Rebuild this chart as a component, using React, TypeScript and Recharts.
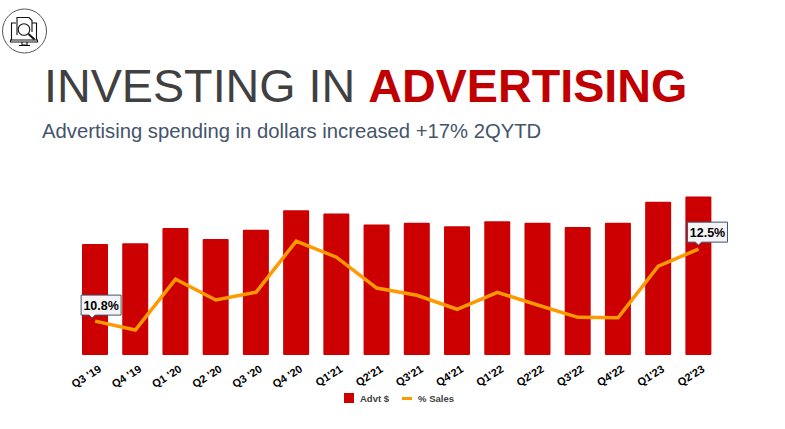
import React from 'react';
import { ComposedChart, Bar, Line, XAxis, YAxis, Legend } from 'recharts';

// Quarter labels along the bottom
const quarters = ["Q3 '19", "Q4 '19", "Q1 '20", "Q2 '20", "Q3 '20", "Q4 '20", "Q1'21", "Q2'21", "Q3'21", "Q4'21", "Q1'22", "Q2'22", "Q3'22", "Q4'22", "Q1'23", "Q2'23"];

// The dollar axis is not printed
const advtDollars = [131, 132, 150, 137, 148, 171, 167, 154, 156, 152, 158, 156, 151, 156, 181, 187];
const pctSales = [10.8, 10.59, 11.79, 11.3, 11.48, 12.69, 12.31, 11.58, 11.41, 11.08, 11.48, 11.18, 10.89, 10.88, 12.1, 12.5];

const chartData = quarters.map((quarter, i) => ({
  quarter,
  advt: advtDollars[i],
  pct: pctSales[i],
}));

const FONT = '"Liberation Sans", Arial, sans-serif';

// Rotated quarter tick
const QuarterTick = ({ x, y, payload }: any) => (
  <text
    x={x + 7}
    y={y + 8}
    textAnchor="end"
    fontFamily={FONT}
    fontSize={11}
    fontWeight={700}
    fill="#000"
    transform={`rotate(-32 ${x + 7} ${y + 8})`}
  >
    {payload.value}
  </text>
);

// Callout box for the first and last points only
const Callout = ({ x, y, index, value }: any) => {
  if (index !== 0 && index !== quarters.length - 1) return null;
  const left = x + (index === 0 ? -14 : -11);
  const top = y - (index === 0 ? 26 : 27);
  const w = 40;
  const h = 20;
  const tip = x - (index === 0 ? 3 : 0);
  return (
    <g>
      <path
        d={`M${left} ${top}h${w}v${h}H${tip + 3}l-3 3l-3 -3H${left}z`}
        fill="#F4F4F6"
        stroke="#44546A"
        strokeWidth={1}
      />
      <text
        x={left + w / 2}
        y={top + 14.5}
        textAnchor="middle"
        fontFamily={FONT}
        fontSize={12.5}
        fontWeight={700}
        fill="#000"
      >
        {value.toFixed(1)}%
      </text>
    </g>
  );
};

// Legend drawn by hand so the swatches match the slide
const SlideLegend = ({ payload }: any) => (
  <div style={{ display: 'flex', alignItems: 'center', height: 12, fontFamily: FONT, fontSize: 9.5, fontWeight: 700, color: '#404040', whiteSpace: 'nowrap' }}>
    {(payload || []).map((entry: any) => (
      <div key={entry.value} style={{ display: 'flex', alignItems: 'center', marginRight: 13 }}>
        {entry.type === 'square' ? (
          <div style={{ width: 10, height: 10, background: entry.color, marginRight: 6 }} />
        ) : (
          <div style={{ width: 10, height: 3, background: entry.color, marginRight: 6 }} />
        )}
        <span>{entry.value}</span>
      </div>
    ))}
  </div>
);

// Little monitor + magnifier badge in the corner
const Badge = () => (
  <svg width={50} height={56} style={{ position: 'absolute', left: 0, top: 6 }}>
    <circle cx={24.5} cy={25} r={22} fill="#fff" stroke="#555" strokeWidth={1} />
    <g fill="none" stroke="#111" strokeWidth={1.1}>
      <path d="M16 17H11.5V34M32 17H36.5V34" />
      <path d="M10.5 34H37.5V36H10.5z" />
      <path d="M22 36V39H27V36M19 39.5H30" />
      <path d="M17 29V11.5H29L32 14.5V26" />
      <circle cx={24} cy={23.5} r={5.8} />
      <path d="M28.5 28L34.5 33.5" strokeWidth={2} />
    </g>
  </svg>
);

const App: React.FC = () => {
  return (
    <div style={{ position: 'absolute', left: 0, top: 0, width: 785, height: 429, background: '#fff', overflow: 'hidden' }}>
      <Badge />
      <div style={{ position: 'absolute', left: 44, top: 58, fontFamily: FONT, fontSize: 46.7, lineHeight: '56px', color: '#404040', whiteSpace: 'nowrap' }}>
        INVESTING IN <span style={{ color: '#C00000', fontWeight: 700 }}>ADVERTISING</span>
      </div>
      <div style={{ position: 'absolute', left: 42, top: 119, fontFamily: FONT, fontSize: 20.25, lineHeight: '24px', color: '#44546A', whiteSpace: 'nowrap' }}>
        Advertising spending in dollars increased +17% 2QYTD
      </div>
      <div style={{ position: 'absolute', left: 0, top: 0 }}>
        <ComposedChart
          width={785}
          height={429}
          data={chartData}
          margin={{ top: 185.6, right: 66.4, left: 75, bottom: 14 }}
        >
          <XAxis dataKey="quarter" axisLine={false} tickLine={false} interval={0} height={44} tick={<QuarterTick />} />
          <YAxis yAxisId="dollars" hide domain={[0, 200]} />
          <YAxis yAxisId="pct" hide orientation="right" domain={[10, 14]} />
          <Legend
            height={16}
            itemSorter={null}
            wrapperStyle={{ left: 344, top: 392, width: 130, bottom: 'auto' }}
            content={<SlideLegend />}
          />
          <Bar yAxisId="dollars" dataKey="advt" name="Advt $" fill="#CC0000" barSize={26} radius={1} legendType="square" isAnimationActive={false} />
          <Line
            yAxisId="pct"
            dataKey="pct"
            name="% Sales"
            type="linear"
            stroke="#FF9900"
            strokeWidth={3.5}
            dot={false}
            activeDot={false}
            legendType="plainline"
            label={<Callout />}
            isAnimationActive={false}
          />
        </ComposedChart>
      </div>
    </div>
  );
};

export default App;
